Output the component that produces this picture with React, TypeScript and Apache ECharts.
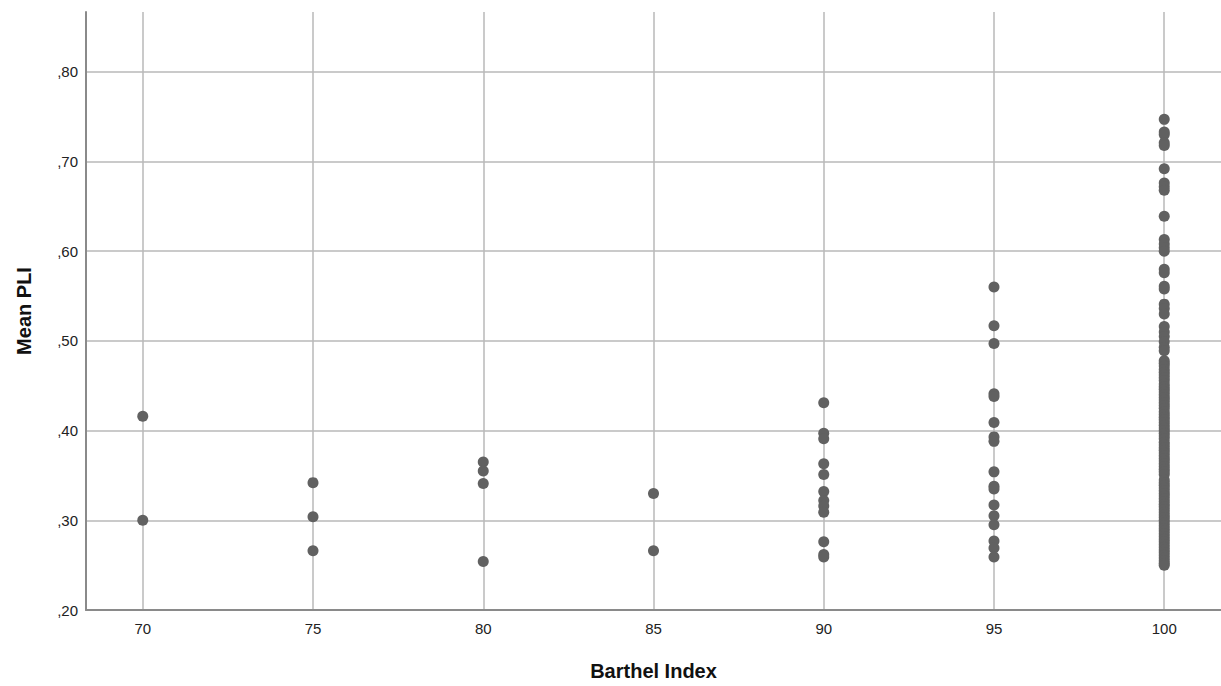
import React, { useEffect, useRef } from "react";
import * as echarts from "echarts";

const xTicks = [70, 75, 80, 85, 90, 95, 100];
const yTicks = [0.2, 0.3, 0.4, 0.5, 0.6, 0.7, 0.8];

const bi70 = [0.416, 0.3];
const bi75 = [0.342, 0.304, 0.266];
const bi80 = [0.365, 0.355, 0.341, 0.254];
const bi85 = [0.33, 0.266];
const bi90 = [0.431, 0.397, 0.391, 0.363, 0.351, 0.332, 0.322, 0.316, 0.309, 0.276, 0.262, 0.259];
const bi95 = [0.56, 0.517, 0.497, 0.441, 0.438, 0.409, 0.393, 0.388, 0.354, 0.338, 0.335, 0.317, 0.305, 0.295, 0.277, 0.269, 0.259];
const bi100 = [
  0.747, 0.733, 0.73, 0.721, 0.718, 0.692, 0.676, 0.672, 0.668, 0.639,
  0.613, 0.608, 0.604, 0.6, 0.58, 0.576, 0.561, 0.558, 0.541, 0.536,
  0.53, 0.516, 0.51, 0.505, 0.499, 0.493, 0.489, 0.478, 0.475, 0.472,
  0.468, 0.465, 0.462, 0.459, 0.456, 0.452, 0.449, 0.446, 0.443, 0.44,
  0.437, 0.434, 0.431, 0.428, 0.425, 0.421, 0.418, 0.415, 0.412, 0.409,
  0.406, 0.403, 0.4, 0.397, 0.394, 0.391, 0.387, 0.384, 0.381, 0.378,
  0.375, 0.372, 0.369, 0.366, 0.363, 0.36, 0.357, 0.354, 0.351, 0.345,
  0.342, 0.339, 0.336, 0.333, 0.33, 0.327, 0.324, 0.321, 0.318, 0.315,
  0.312, 0.309, 0.306, 0.303, 0.3, 0.297, 0.294, 0.291, 0.288, 0.285,
  0.282, 0.279, 0.276, 0.273, 0.27, 0.267, 0.264, 0.261, 0.258, 0.255,
  0.252, 0.25,
];

const columns: [number, number[]][] = [
  [70, bi70],
  [75, bi75],
  [80, bi80],
  [85, bi85],
  [90, bi90],
  [95, bi95],
  [100, bi100],
];

export default function App() {
  const ref = useRef<HTMLDivElement>(null);
  useEffect(() => {
    if (!ref.current) return;
    const chart = echarts.init(ref.current, undefined, { renderer: "svg" });
    const data: number[][] = [];
    columns.forEach(([x, ys]) => ys.forEach((y) => data.push([x, y])));
    const font = "'Liberation Sans', Arial, sans-serif";
    chart.setOption({
      animation: false,
      backgroundColor: "#ffffff",
      grid: { left: 86, top: 12, bottom: 70, right: -2, containLabel: false },
      xAxis: {
        type: "value",
        min: 68.333,
        max: 101.667,
        minInterval: 5,
        maxInterval: 5,
        name: "Barthel Index",
        nameLocation: "middle",
        nameGap: 51,
        nameTextStyle: { fontFamily: font, fontSize: 20, fontWeight: "bold", color: "#111" },
        axisLine: { show: true, lineStyle: { color: "#8a8a8a", width: 2 } },
        axisTick: { show: false },
        axisLabel: {
          margin: 11,
          fontFamily: font,
          fontSize: 15,
          color: "#222",
          showMinLabel: false,
          showMaxLabel: false,
          formatter: (v: number) => (xTicks.includes(Math.round(v)) && Math.abs(v - Math.round(v)) < 1e-6 ? String(Math.round(v)) : ""),
        },
        splitLine: { show: true, showMinLine: false, showMaxLine: false, lineStyle: { color: "#b8b8b8", width: 1.5 } },
      },
      yAxis: {
        type: "value",
        min: 0.2,
        max: 0.8667,
        interval: 0.1,
        name: "Mean PLI",
        nameLocation: "middle",
        nameGap: 52,
        nameTextStyle: { fontFamily: font, fontSize: 20, fontWeight: "bold", color: "#111" },
        axisLine: { show: true, lineStyle: { color: "#8a8a8a", width: 2 } },
        axisTick: { show: false },
        axisLabel: {
          margin: 8,
          fontFamily: font,
          fontSize: 15,
          color: "#222",
          showMaxLabel: false,
          formatter: (v: number) => {
            const t = yTicks.find((k) => Math.abs(k - v) < 1e-6);
            return t === undefined ? "" : "," + String(Math.round(t * 100)).padStart(2, "0");
          },
        },
        splitLine: { show: true, showMinLine: false, showMaxLine: false, lineStyle: { color: "#b8b8b8", width: 1.5 } },
      },
      series: [
        {
          type: "scatter",
          data,
          symbol: "circle",
          symbolSize: 11,
          itemStyle: { color: "#616161", opacity: 1 },
          silent: true,
        },
      ],
    });
    return () => chart.dispose();
  }, []);
  return (
    <div
      ref={ref}
      style={{ position: "fixed", left: 0, top: 0, width: 1221, height: 686 }}
    />
  );
}
